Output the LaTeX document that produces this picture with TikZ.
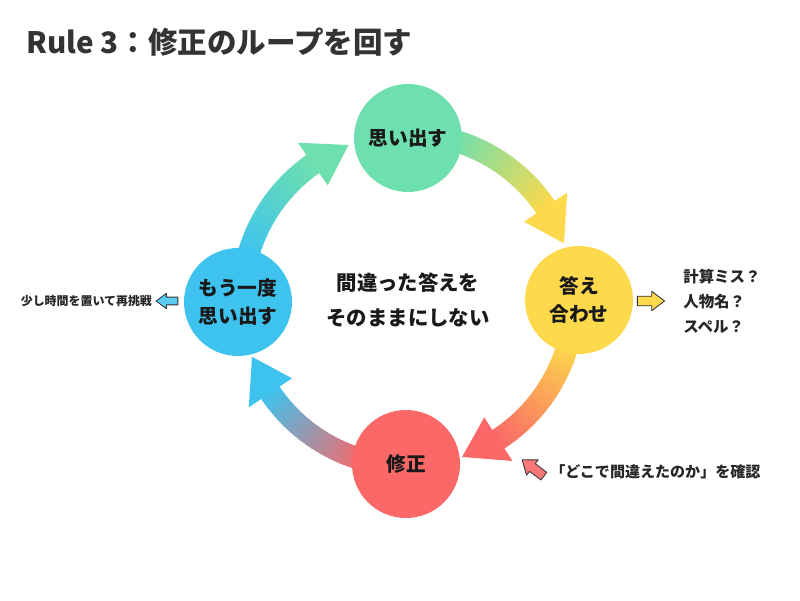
\documentclass[tikz,border=0pt]{standalone}
\usepackage{fontspec}
\setmainfont{Noto Sans CJK JP}
\usepackage{xcolor}
\usetikzlibrary{positioning,calc}

\definecolor{stepgreen}{HTML}{6EDFAE}
\definecolor{stepyellow}{HTML}{FDD94B}
\definecolor{stepred}{HTML}{FA6868}
\definecolor{stepblue}{HTML}{3EC3EF}
\definecolor{titlegray}{HTML}{333333}

\tikzset{
  stage/.style={circle, minimum size=2.7cm, inner sep=0pt, align=center,
    font=\bfseries\fontsize{14}{20}\selectfont, text=black!90},
  note/.style={inner sep=0pt, align=left, text=black!85},
}

% gradient arc of the loop: from angle, tip angle, start colour, end colour
\newcommand{\looparc}[4]{%
  \foreach \i in {0,...,39} {
    \pgfmathsetmacro{\angA}{#1-(#1-#2-13)*\i/40}
    \pgfmathsetmacro{\angB}{\angA-(#1-#2-13)/40-0.5}
    \pgfmathsetmacro{\mixp}{100*\i/39}
    \draw[line width=0.55cm, color={#4!\mixp!#3}]
      ($(loopc)+(\angA:4.15)$) arc[start angle=\angA, end angle=\angB, radius=4.15cm];
  }
  \fill[#4] ($(loopc)+(#2:4.15)$) -- ($(loopc)+(#2+14:4.8)$) -- ($(loopc)+(#2+14:3.5)$) -- cycle;
}

% small outlined arrow: position, rotation, fill, scale
\newcommand{\hintarrow}[4]{%
  \draw[fill=#3, draw=black!80, line width=0.6pt, line join=round, shift={#1}, rotate=#2, scale=#4]
    (-0.34,-0.12) -- (0.02,-0.12) -- (0.02,-0.24) -- (0.34,0) -- (0.02,0.24) -- (0.02,0.12) -- (-0.34,0.12) -- cycle;
}

\begin{document}
\begin{tikzpicture}
  \fill[white] (0,0) rectangle (20,15);
  \useasboundingbox (0,0) rectangle (20,15);

  % Title
  \node[anchor=west, inner sep=0pt, text=titlegray, font=\bfseries\fontsize{21}{26}\selectfont]
    (title) at (0.65,13.95) {Rule 3：修正のループを回す};

  % Loop arrows
  \coordinate (loopc) at (10.2,7.5);
  \looparc{165}{111}{stepblue}{stepgreen}
  \looparc{75}{20}{stepgreen}{stepyellow}
  \looparc{-15}{-71}{stepyellow}{stepred}
  \looparc{-105}{-160}{stepred}{stepblue}

  % Stages
  \node[stage, fill=stepgreen] (recall) at (10.2,11.55) {思い出す};
  \node[stage, fill=stepyellow] (check) at (14.475,7.5) {答え\\合わせ};
  \node[stage, fill=stepred] (fix) at (10.15,3.4) {修正};
  \node[stage, fill=stepblue] (again) at (5.95,7.45) {もう一度\\思い出す};

  \node[align=center, text=black!90, font=\bfseries\fontsize{14.5}{25}\selectfont]
    (center) at (loopc) {間違った答えを\\そのままにしない};

  % Side notes
  \coordinate (hintl) at (4.175,7.475);
  \hintarrow{(hintl)}{180}{stepblue!85!white}{0.8}
  \node[note, left=0.37cm of hintl, font=\bfseries\fontsize{8.5}{10}\selectfont] (retry) {少し時間を置いて再挑戦};

  \coordinate (hintr) at (16.275,7.475);
  \hintarrow{(hintr)}{0}{stepyellow}{1}
  \node[note, right=0.8cm of hintr, font=\bfseries\fontsize{11}{17.8}\selectfont] (causes) {計算ミス？\\人物名？\\スペル？};

  \coordinate (hintd) at (13.325,3.3);
  \hintarrow{(hintd)}{143}{stepred!90!white}{1}
  \node[note, anchor=west, font=\bfseries\fontsize{10.7}{12}\selectfont] (where) at (13.75,3.2) {「どこで間違えたのか」を確認};
\end{tikzpicture}
\end{document}
